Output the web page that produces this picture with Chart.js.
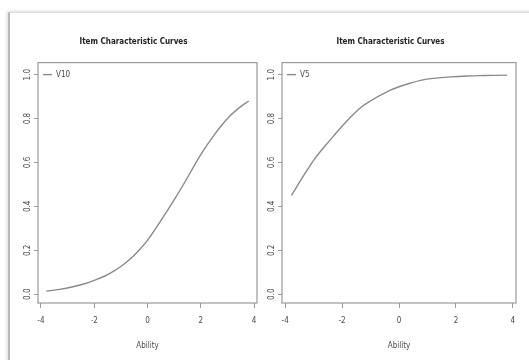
<!DOCTYPE html>
<html>
<head>
<meta charset="utf-8">
<script src="https://cdn.jsdelivr.net/npm/chart.js@4"></script>
<style>
  html, body { margin: 0; padding: 0; background: #fff; }
  body { width: 529px; height: 360px; position: relative; overflow: hidden; }
  .card {
    position: absolute; left: 8px; top: 12px; width: 600px; height: 400px;
    border-top: 1px solid #dcdcdc; border-left: 2px solid #b8b8b8;
    box-shadow: -1px -1px 3px rgba(0,0,0,0.15);
  }
  .panel { position: absolute; top: 14px; height: 346px; }
  #leftPanel { left: 10px; width: 255px; }
  #rightPanel { left: 265px; width: 264px; }
</style>
</head>
<body>
<div class="card"></div>
<div class="panel" id="leftPanel"><canvas id="v10Chart"></canvas></div>
<div class="panel" id="rightPanel"><canvas id="v5Chart"></canvas></div>
<script>
// Ability values and item probabilities
const abilityV10 = [-3.8, -3.3, -2.8, -2.3, -2.0, -1.6, -1.3, -1.0, -0.65, -0.3, 0.0, 0.5, 1.0, 1.4, 1.75, 2.1, 2.5, 2.8, 3.1, 3.45, 3.8];
const probV10    = [0.014, 0.022, 0.034, 0.05, 0.063, 0.083, 0.103, 0.126, 0.16, 0.203, 0.245, 0.335, 0.43, 0.51, 0.585, 0.655, 0.725, 0.772, 0.813, 0.85, 0.88];

const abilityV5 = [-3.78, -3.4, -3.0, -2.6, -2.3, -2.0, -1.6, -1.3, -1.0, -0.6, -0.3, 0.0, 0.35, 0.8, 1.2, 1.8, 2.4, 3.0, 3.4, 3.8];
const probV5    = [0.45, 0.53, 0.61, 0.675, 0.72, 0.765, 0.82, 0.855, 0.88, 0.91, 0.93, 0.945, 0.96, 0.975, 0.983, 0.99, 0.994, 0.996, 0.997, 0.998];

const xTicks = [-4, -2, 0, 2, 4];
const yTicks = [0, 0.2, 0.4, 0.6, 0.8, 1.0];

const axisColor = '#9a9a9a';
const textColor = '#4a4a4a';
const lineColor = '#8a8a8a';
const narrow = "'Liberation Sans Narrow', 'DejaVu Sans Condensed', 'Liberation Sans', sans-serif";

// box round the plot region plus an R-style legend in the top left corner
const boxPlugin = {
  id: 'box',
  afterDraw(chart) {
    const a = chart.chartArea, ctx = chart.ctx;
    const ds = chart.data.datasets[0];
    ctx.save();
    ctx.strokeStyle = axisColor;
    ctx.lineWidth = 1.2;
    ctx.strokeRect(a.left, a.top, a.right - a.left, a.bottom - a.top);

    const ly = a.top + 12;
    ctx.strokeStyle = ds.borderColor;
    ctx.lineWidth = ds.borderWidth;
    ctx.beginPath();
    ctx.moveTo(a.left + 5, ly);
    ctx.lineTo(a.left + 14, ly);
    ctx.stroke();
    ctx.fillStyle = textColor;
    ctx.font = '8px ' + narrow;
    ctx.textBaseline = 'middle';
    ctx.fillText(ds.label, a.left + 18, ly);
    ctx.restore();
  }
};

function makeChart(id, name, xs, ys, yWidth, padRight) {
  return new Chart(document.getElementById(id), {
    type: 'line',
    data: {
      datasets: [{
        label: name,
        data: xs.map((x, i) => ({ x: x, y: ys[i] })),
        borderColor: lineColor,
        borderWidth: 1.4,
        pointRadius: 0,
        cubicInterpolationMode: 'monotone',
        fill: false
      }]
    },
    options: {
      animation: false,
      responsive: true,
      maintainAspectRatio: false,
      layout: { padding: { top: 0, right: padRight, bottom: 0, left: 0 } },
      plugins: {
        title: {
          display: true,
          text: 'Item Characteristic Curves',
          color: '#222',
          font: { family: narrow, size: 8, weight: 'bold' },
          padding: { top: 23, bottom: 16 }
        },
        legend: { display: false },
        tooltip: { enabled: false }
      },
      scales: {
        x: {
          type: 'linear',
          min: -4.11,
          max: 4.11,
          afterBuildTicks: s => { s.ticks = xTicks.map(v => ({ value: v })); },
          afterFit: s => { s.height = 57; },
          grid: { display: true, drawOnChartArea: false, drawTicks: true, tickLength: 5, color: axisColor },
          border: { display: false },
          ticks: { color: textColor, font: { family: narrow, size: 8 }, padding: 8, maxRotation: 0 },
          title: { display: true, text: 'Ability', color: textColor, font: { family: narrow, size: 8 }, padding: { top: 0, bottom: 9 } }
        },
        y: {
          type: 'linear',
          min: -0.04,
          max: 1.055,
          afterBuildTicks: s => { s.ticks = yTicks.map(v => ({ value: v })); },
          afterFit: s => { s.width = yWidth; },
          grid: { display: true, drawOnChartArea: false, drawTicks: true, tickLength: 4, color: axisColor },
          border: { display: false },
          ticks: {
            color: textColor,
            font: { family: narrow, size: 8 },
            minRotation: 90, maxRotation: 90,
            crossAlign: 'center',
            padding: 0,
            callback: v => v.toFixed(1)
          }
        }
      }
    },
    plugins: [boxPlugin]
  });
}

makeChart('v10Chart', 'V10', abilityV10, probV10, 28, 8);
makeChart('v5Chart', 'V5', abilityV5, probV5, 17, 13);
</script>
</body>
</html>
